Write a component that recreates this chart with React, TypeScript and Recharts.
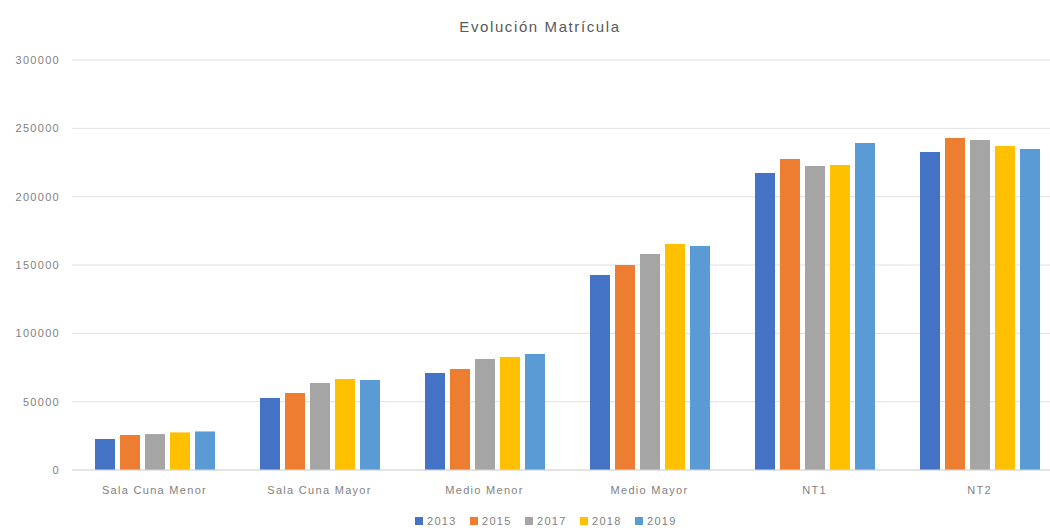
import React from "react";
import {
  BarChart,
  Bar,
  XAxis,
  YAxis,
  CartesianGrid,
} from "recharts";

// Niveles educativos (categorías del eje X)
const categories = [
  "Sala Cuna Menor",
  "Sala Cuna Mayor",
  "Medio Menor",
  "Medio Mayor",
  "NT1",
  "NT2",
];

// Matrícula por año
const years = ["2013", "2015", "2017", "2018", "2019"];
const values2013 = [22700, 52700, 71000, 142700, 217300, 232700];
const values2015 = [25600, 56300, 73900, 150000, 227600, 242900];
const values2017 = [26300, 63700, 81200, 158000, 222400, 241500];
const values2018 = [27500, 66600, 82700, 165400, 223200, 237100];
const values2019 = [28200, 65900, 84900, 163900, 239300, 234900];
const yTicks = [0, 50000, 100000, 150000, 200000, 250000, 300000];

const seriesValues = [values2013, values2015, values2017, values2018, values2019];
const colors = ["#4472C4", "#ED7D31", "#A5A5A5", "#FFC000", "#5B9BD5"];

const data = categories.map((name, i) => {
  const row: Record<string, string | number> = { name };
  years.forEach((y, s) => {
    row[y] = seriesValues[s][i];
  });
  return row;
});

const FONT = "'Liberation Sans', Arial, sans-serif";
const tickStyle = { fontSize: 11, fill: "#7f7f7f", letterSpacing: 1.3, fontFamily: FONT };

export default function App() {
  return (
    <div
      style={{
        position: "absolute",
        left: 0,
        top: 0,
        width: 1050,
        height: 528,
        overflow: "hidden",
        background: "#fff",
        fontFamily: FONT,
      }}
    >
      <div
        style={{
          position: "absolute",
          top: 18,
          left: 0,
          width: 1080,
          textAlign: "center",
          fontSize: 15,
          letterSpacing: 1.6,
          color: "#595959",
        }}
      >
        Evolución Matrícula
      </div>
      {/* the plot runs a little past the right edge, like the original */}
      <BarChart
        width={1068}
        height={528}
        data={data}
        margin={{ top: 60, right: 6, left: 0, bottom: 28 }}
        barSize={20}
        barGap={5}
      >
        <CartesianGrid vertical={false} stroke="#e0e0e0" />
        <XAxis
          dataKey="name"
          axisLine={{ stroke: "#d9d9d9" }}
          tickLine={false}
          tick={tickStyle}
          tickMargin={10}
          height={30}
          interval={0}
        />
        <YAxis
          width={72}
          domain={[0, 300000]}
          ticks={yTicks}
          axisLine={false}
          tickLine={false}
          tick={tickStyle}
          tickMargin={6}
        />
        {years.map((y, s) => (
          <Bar key={y} dataKey={y} fill={colors[s]} isAnimationActive={false} />
        ))}
      </BarChart>
      <div
        style={{
          position: "absolute",
          top: 515,
          left: 415,
          display: "flex",
          alignItems: "center",
          fontSize: 11,
          letterSpacing: 1.3,
          color: "#7f7f7f",
        }}
      >
        {years.map((y, s) => (
          <div
            key={y}
            style={{ display: "flex", alignItems: "center", width: 55 }}
          >
            <span
              style={{
                display: "inline-block",
                width: 8,
                height: 8,
                background: colors[s],
                marginRight: 4,
              }}
            />
            {y}
          </div>
        ))}
      </div>
    </div>
  );
}
